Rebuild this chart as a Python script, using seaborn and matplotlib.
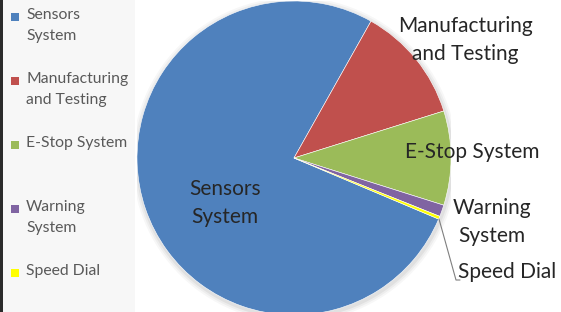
import matplotlib
matplotlib.use("Agg")
import matplotlib.pyplot as plt
import seaborn as sns
from matplotlib.patches import Rectangle

# slice shares (%)
categories = ["Sensors System", "Manufacturing and Testing", "E-Stop System",
              "Warning System", "Speed Dial"]
legend_labels = ["Sensors\nSystem", "Manufacturing\nand Testing", "E-Stop System",
                 "Warning\nSystem", "Speed Dial"]
slice_labels = ["Sensors\nSystem", "Manufacturing\nand Testing", "E-Stop System",
                "Warning\nSystem", "Speed Dial"]
shares = [76.8, 12.0, 9.7, 1.2, 0.3]
colors = ["#4F81BD", "#C0504D", "#9BBB59", "#8064A2", "#FFFF00"]

sns.set_theme(style="white")
plt.rcParams["font.family"] = ["Lato", "DejaVu Sans"]

W, H = 561, 312
fig = plt.figure(figsize=(W / 100, H / 100), dpi=100)
fig.patch.set_facecolor("white")

# left legend panel with dark edge
fig.patches.append(Rectangle((0, 0), 3 / W, 1, transform=fig.transFigure,
                             facecolor="#2b2b2b", edgecolor="none", zorder=0))
fig.patches.append(Rectangle((3 / W, 0), 132 / W, 1, transform=fig.transFigure,
                             facecolor="#f7f7f7", edgecolor="none", zorder=0))

# pie axes: centre (294, 158) px, radius 157 px
cx, cy, r = 294, 158, 157
ax = fig.add_axes([(cx - r) / W, (H - cy - r) / H, 2 * r / W, 2 * r / H])

# soft shadow under the pie
for k, a in enumerate([0.05, 0.04, 0.03]):
    ax.add_patch(plt.Circle((0.005, -0.012), 1.0 + 0.012 * (k + 1),
                            color="black", alpha=a, linewidth=0, zorder=0))

wedges, _ = ax.pie(shares, colors=colors, startangle=90 - 112.9,
                   counterclock=False, radius=1,
                   wedgeprops=dict(linewidth=0.4, edgecolor="white", zorder=2))
ax.set_xlim(-1, 1)
ax.set_ylim(-1, 1)
ax.set_aspect("equal")
ax.axis("off")


def px(x, y):
    return (x - cx) / r, (cy - y) / r


lab_pos = [(225, 203), (465, 40), (472, 152), (492, 222), (507, 272)]
for lab, (x, y) in zip(slice_labels, lab_pos):
    tx, ty = px(x, y)
    ax.text(tx, ty, lab, ha="center", va="center", fontsize=15,
            color="#262626", linespacing=1.45, clip_on=False, zorder=5)

# leader line for the smallest slice
ax.plot(*zip(px(439, 219), px(456, 280), px(460, 280)), color="#7f7f7f",
        linewidth=0.8, clip_on=False, zorder=5)

# legend entries, drawn from the category lists
for i, (lab, col) in enumerate(zip(legend_labels, colors)):
    ym = 17 + i * 64
    fig.patches.append(Rectangle((11 / W, 1 - (ym + 4) / H), 8 / W, 8 / H,
                                 transform=fig.transFigure, facecolor=col,
                                 edgecolor="none"))
    fig.text(26 / W, 1 - (ym - 9) / H, lab, ha="left", va="top", fontsize=11.3,
             color="#595959", linespacing=1.6)

fig.savefig("out.png", dpi=100)
